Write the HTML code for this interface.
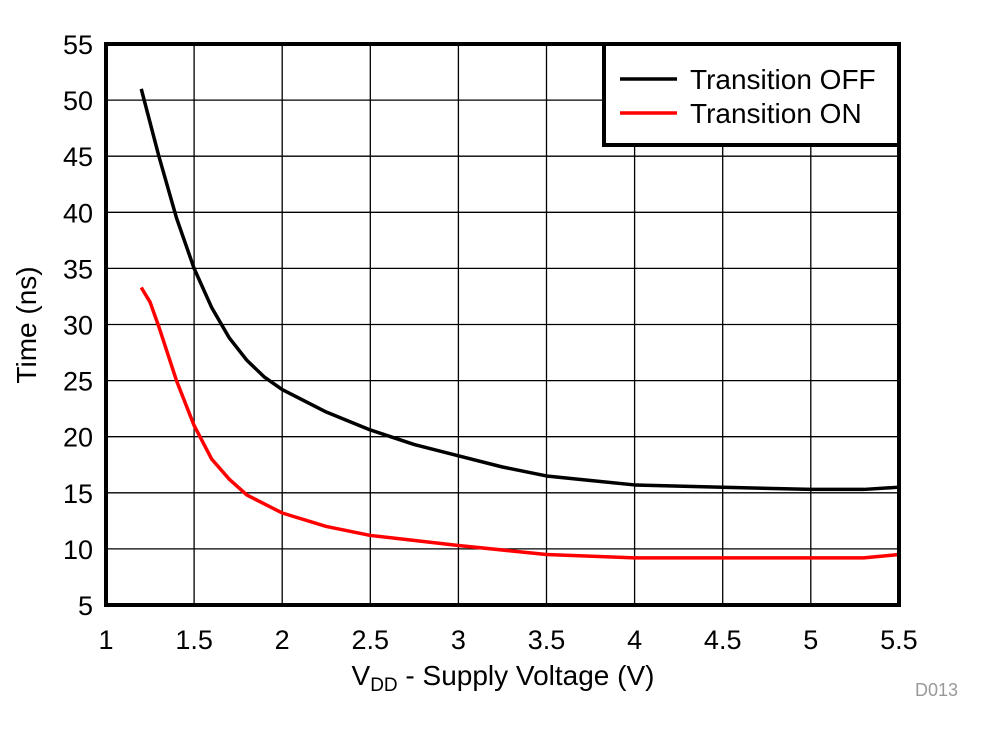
<!DOCTYPE html>
<html><head><style>body{margin:0;background:#fff}svg{display:block}</style></head>
<body>
<svg id="s" width="982" height="734" xmlns="http://www.w3.org/2000/svg" font-family="Liberation Sans, sans-serif">
<g id="grid" stroke="#000" stroke-width="1.3"></g>
<g id="lbl" font-size="27" fill="#000"></g>
<polyline id="blk" fill="none" stroke="#000" stroke-width="3.5" stroke-linejoin="round"/>
<polyline id="red" fill="none" stroke="#f00" stroke-width="3.5" stroke-linejoin="round"/>
<rect x="106" y="44" width="793" height="561" fill="none" stroke="#000" stroke-width="4"/>
<rect x="604" y="44" width="295" height="101" fill="#fff" stroke="#000" stroke-width="4"/>
<line x1="620" y1="79" x2="677" y2="79" stroke="#000" stroke-width="3.5"/>
<line x1="620" y1="113" x2="677" y2="113" stroke="#f00" stroke-width="3.5"/>
<text x="690" y="89" font-size="28">Transition OFF</text>
<text x="690" y="123" font-size="28">Transition ON</text>
<text transform="translate(36,325) rotate(-90)" text-anchor="middle" font-size="28">Time (ns)</text>
<text x="503" y="685" text-anchor="middle" font-size="28">V<tspan font-size="19" dy="6">DD</tspan><tspan dy="-6"> - Supply Voltage (V)</tspan></text>
<text x="958" y="696" text-anchor="end" font-size="18" fill="#999">D013</text>
</svg>
<script>
const X=v=>106+(v-1)*176.2, Y=t=>44+(55-t)*11.22;
let g=document.getElementById('grid'),l=document.getElementById('lbl'),h='',k='';
for(let i=0;i<=9;i++){let v=1+i*0.5,x=X(v);h+=`<line x1="${x}" y1="44" x2="${x}" y2="605"/>`;k+=`<text x="${x}" y="649" text-anchor="middle">${v}</text>`;}
for(let t=5;t<=55;t+=5){let y=Y(t);h+=`<line x1="106" y1="${y}" x2="899" y2="${y}"/>`;k+=`<text x="93" y="${y+10}" text-anchor="end">${t}</text>`;}
g.innerHTML=h;l.innerHTML=k;
const b=[[1.2,51],[1.3,45],[1.4,39.5],[1.5,35],[1.6,31.5],[1.7,28.8],[1.8,26.8],[1.9,25.3],[2,24.2],[2.25,22.2],[2.5,20.6],[2.75,19.3],[3,18.3],[3.25,17.3],[3.5,16.5],[3.75,16.1],[4,15.7],[4.5,15.5],[5,15.3],[5.3,15.3],[5.5,15.5]];
const r=[[1.2,33.3],[1.25,32],[1.3,29.8],[1.4,25],[1.5,21],[1.6,18],[1.7,16.2],[1.8,14.8],[2,13.2],[2.25,12],[2.5,11.2],[3,10.3],[3.5,9.5],[4,9.2],[4.5,9.2],[5,9.2],[5.3,9.2],[5.5,9.5]];
const p=a=>a.map(([v,t])=>X(v)+','+Y(t)).join(' ');
document.getElementById('blk').setAttribute('points',p(b));
document.getElementById('red').setAttribute('points',p(r));
</script>
</body></html>
